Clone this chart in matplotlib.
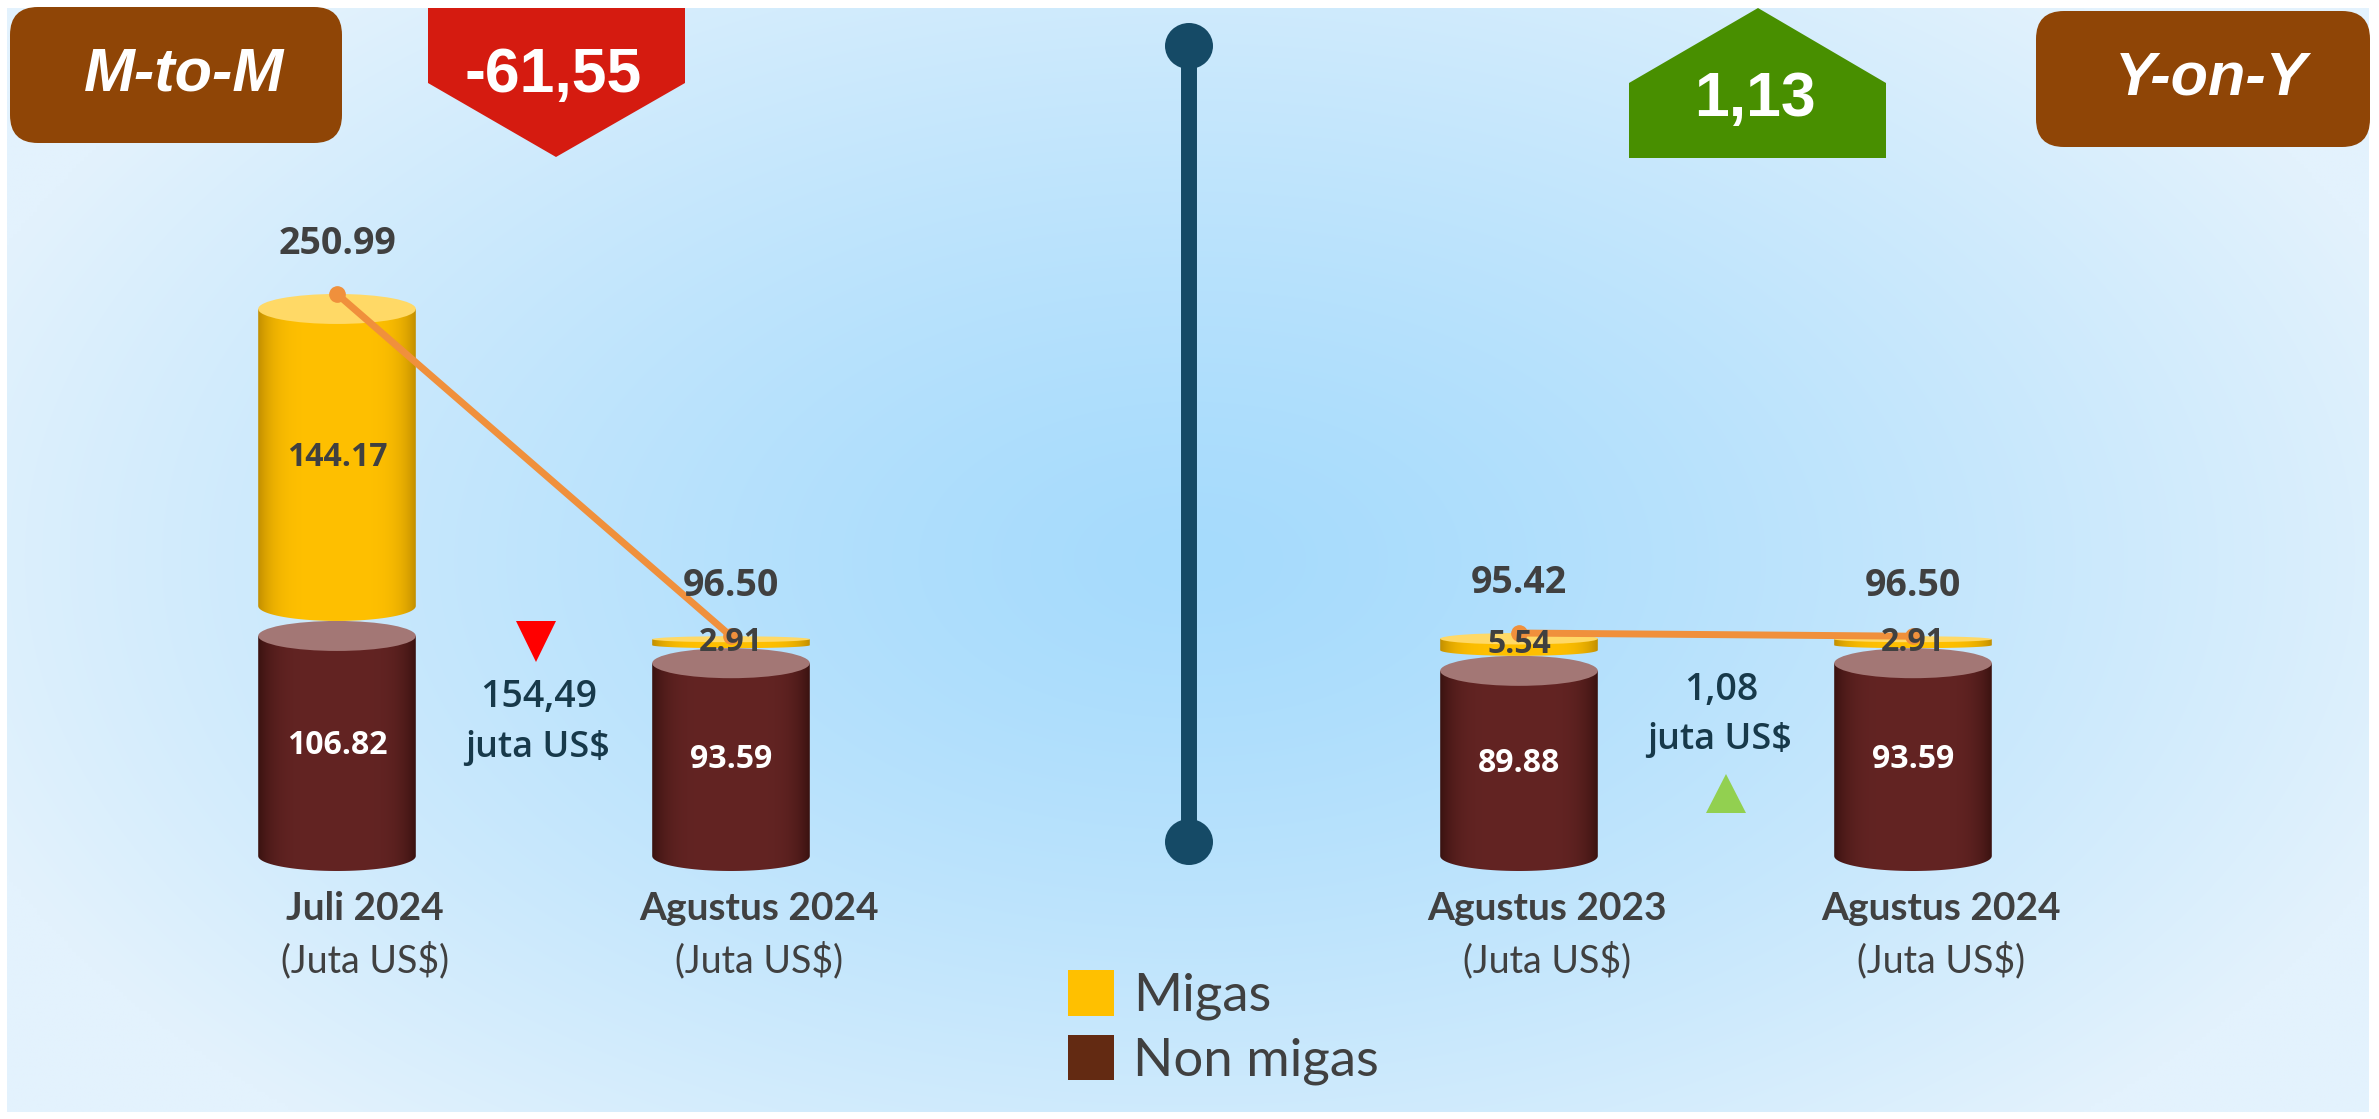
import matplotlib.pyplot as plt
import numpy as np
from matplotlib.patches import Polygon, Ellipse, FancyBboxPatch, Patch

# data (juta US$)
periods = ['Juli 2024', 'Agustus 2024', 'Agustus 2023', 'Agustus 2024']
migas = [144.17, 2.91, 5.54, 2.91]
nonmigas = [106.82, 93.59, 89.88, 93.59]
totals = [250.99, 96.50, 95.42, 96.50]
series = ['Migas', 'Non migas']
comparisons = ['M-to-M', 'Y-on-Y']

W, H = 2379, 1119
fig = plt.figure(figsize=(W / 100, H / 100), dpi=100)
fig.patch.set_facecolor('white')

narrow = ['Liberation Sans Narrow', 'Liberation Sans', 'DejaVu Sans']
grey = '#404040'
ink = '#17394A'

# background / decoration layer in pixel coordinates
bg = fig.add_axes([0, 0, 1, 1])
bg.set_xlim(0, W)
bg.set_ylim(H, 0)
bg.axis('off')

yy, xx = np.meshgrid(np.linspace(8, 1112, 300), np.linspace(7, 2369, 600), indexing='ij')
r = np.clip(np.sqrt(((xx - 1190) / 1300) ** 2 + ((yy - 560) / 760) ** 2), 0, 1)
c0 = np.array([0xA6, 0xDB, 0xFC]) / 255
c1 = np.array([0xE3, 0xF2, 0xFD]) / 255
img = c0 + (c1 - c0) * (r[..., None] ** 1.3)
bg.imshow(img, extent=[7, 2369, 1112, 8], aspect='auto', interpolation='bilinear', zorder=0)

# chart layer: x = category slot, y = value
ax = fig.add_axes([0, 0, 1, 1], zorder=2)
ax.patch.set_alpha(0)
ax.axis('off')
X0, XU, Y0, YU = 337, 394, 856, 2.06  # px of x=0, px per slot, px of y=0, px per unit


def set_limits():
    ax.set_xlim(-X0 / XU, (W - X0) / XU)
    ax.set_ylim(-(H - Y0) / YU, Y0 / YU)


set_limits()
xs = [i + (1 if i >= 2 else 0) for i in range(len(periods))]
ry = 15 / YU       # ellipse half height in data units
cw = 0.40          # cylinder width in slots


def cylinder(x, b, t, ryy, body, edge, top, z):
    th = np.linspace(np.pi, 2 * np.pi, 50)
    verts = [(x - cw / 2, t)] + list(zip(x + cw / 2 * np.cos(th), b + ryy * np.sin(th))) + [(x + cw / 2, t)]
    poly = Polygon(verts, closed=True, facecolor='none', edgecolor='none')
    ax.add_patch(poly)
    u = np.linspace(-1, 1, 200)
    shade = 1 - np.abs(u) ** 5
    body = np.array(body); edge = np.array(edge)
    col = edge + (body - edge) * shade[:, None]
    im = ax.imshow(col[None, :, :], extent=[x - cw / 2, x + cw / 2, b - ryy, t],
                   aspect='auto', interpolation='bilinear', zorder=z)
    im.set_clip_path(poly)
    ax.add_patch(Ellipse((x, t), cw, 2 * ryy, facecolor=top, edgecolor='none', zorder=z + 0.1))


def rgb(h):
    return [int(h[i:i + 2], 16) / 255 for i in (1, 3, 5)]


tops = []
for x, mg, nm in zip(xs, migas, nonmigas):
    cylinder(x, 0, nm, ry, rgb('#632423'), rgb('#3A1210'), '#A37775', 3)
    ru = min(ry, mg / 2)
    b = nm + ry + ru
    cylinder(x, b, b + mg, ru, rgb('#FFC000'), rgb('#C28F00'), '#FFD966', 4)
    tops.append((b + mg, ru))
    ax.text(x, b + mg / 2, f'{mg:.2f}', ha='center', va='center', fontsize=23,
            fontweight='bold', color=grey, family='Open Sans', zorder=7)
    ax.text(x, nm / 2, f'{nm:.2f}', ha='center', va='center', fontsize=23,
            fontweight='bold', color='white', family='Open Sans', zorder=7)

set_limits()

# total line per comparison
for g in range(2):
    idx = [2 * g, 2 * g + 1]
    gx = [xs[i] for i in idx]
    gy = [tops[i][0] + tops[i][1] for i in idx]
    ax.plot(gx, gy, color='#F0903C', lw=5, marker='o', ms=11, zorder=6, solid_capstyle='round')
    for i, px, py in zip(idx, gx, gy):
        ax.annotate(f'{totals[i]:.2f}', (px, py), xytext=(0, 36), textcoords='offset points',
                    ha='center', va='center', fontsize=27, fontweight='bold', color=grey,
                    family='Open Sans', zorder=7)

# category labels
for x, p in zip(xs, periods):
    ax.annotate(p, (x, 0), xytext=(20, -38), textcoords='offset points', ha='center', va='center',
                fontsize=28, fontweight='bold', color=grey, family='Lato')
    ax.annotate('(Juta US$)', (x, 0), xytext=(20, -75), textcoords='offset points', ha='center',
                va='center', fontsize=27, color=grey, family='Lato')

# changes
mtm = totals[1] - totals[0]
yoy = totals[3] - totals[2]
mtm_pct = mtm / totals[0] * 100
yoy_pct = yoy / totals[2] * 100


def comma(v):
    return f'{v:.2f}'.replace('.', ',')


bg.text(539, 697, comma(abs(mtm)), ha='center', va='center', fontsize=27, fontweight='semibold',
        color=ink, family='Open Sans', zorder=5)
bg.text(538, 748, 'juta US$', ha='center', va='center', fontsize=26, fontweight='semibold',
        color=ink, family='Open Sans', zorder=5)
bg.add_patch(Polygon([(516, 621), (556, 621), (536, 662)], closed=True, facecolor='#FF0000', zorder=5))

bg.text(1721, 690, comma(abs(yoy)), ha='center', va='center', fontsize=27, fontweight='semibold',
        color=ink, family='Open Sans', zorder=5)
bg.text(1720, 740, 'juta US$', ha='center', va='center', fontsize=26, fontweight='semibold',
        color=ink, family='Open Sans', zorder=5)
bg.add_patch(Polygon([(1706, 813), (1746, 813), (1726, 774)], closed=True, facecolor='#92D050', zorder=5))

# header boxes
for (x0, y0, x1, y1), label in zip([(10, 7, 342, 143), (2036, 11, 2370, 147)], comparisons):
    bg.add_patch(FancyBboxPatch((x0, y0), x1 - x0, y1 - y0, boxstyle='round,pad=0,rounding_size=28',
                                facecolor='#8F4506', edgecolor='none', zorder=5))
    bg.text((x0 + x1) / 2 + 8, (y0 + y1) / 2, label, ha='center', va='center', fontsize=44,
            fontweight='bold', fontstyle='italic', color='white', family=narrow, zorder=6)

bg.add_patch(Polygon([(428, 8), (685, 8), (685, 83), (556, 157), (428, 83)], closed=True,
                     facecolor='#D51B10', edgecolor='none', zorder=5))
bg.text(553, 75, comma(mtm_pct), ha='center', va='center', fontsize=45, fontweight='bold',
        color='white', family=narrow, zorder=6)
bg.add_patch(Polygon([(1629, 158), (1886, 158), (1886, 83), (1758, 8), (1629, 83)], closed=True,
                     facecolor='#488F00', edgecolor='none', zorder=5))
bg.text(1755, 99, comma(yoy_pct), ha='center', va='center', fontsize=45, fontweight='bold',
        color='white', family=narrow, zorder=6)

# divider
bg.plot([1189, 1189], [46, 842], color='#154A66', lw=11.5, solid_capstyle='butt', zorder=5)
for cy in (46, 842):
    bg.add_patch(Ellipse((1189, cy), 48, 46, facecolor='#154A66', edgecolor='none', zorder=5))

# legend
leg = ax.legend(handles=[Patch(facecolor='#FFC000'), Patch(facecolor='#632A12')], labels=series,
                loc='upper left', bbox_to_anchor=(1068 / W, 1 - 970 / H), bbox_transform=fig.transFigure,
                frameon=False, fontsize=38, handlelength=0.87, handleheight=0.95, handletextpad=0.36,
                labelspacing=0.27, borderpad=0, borderaxespad=0, labelcolor=grey,
                prop={'family': 'Lato', 'size': 38})

fig.savefig('out.png', dpi=100, facecolor='white')
